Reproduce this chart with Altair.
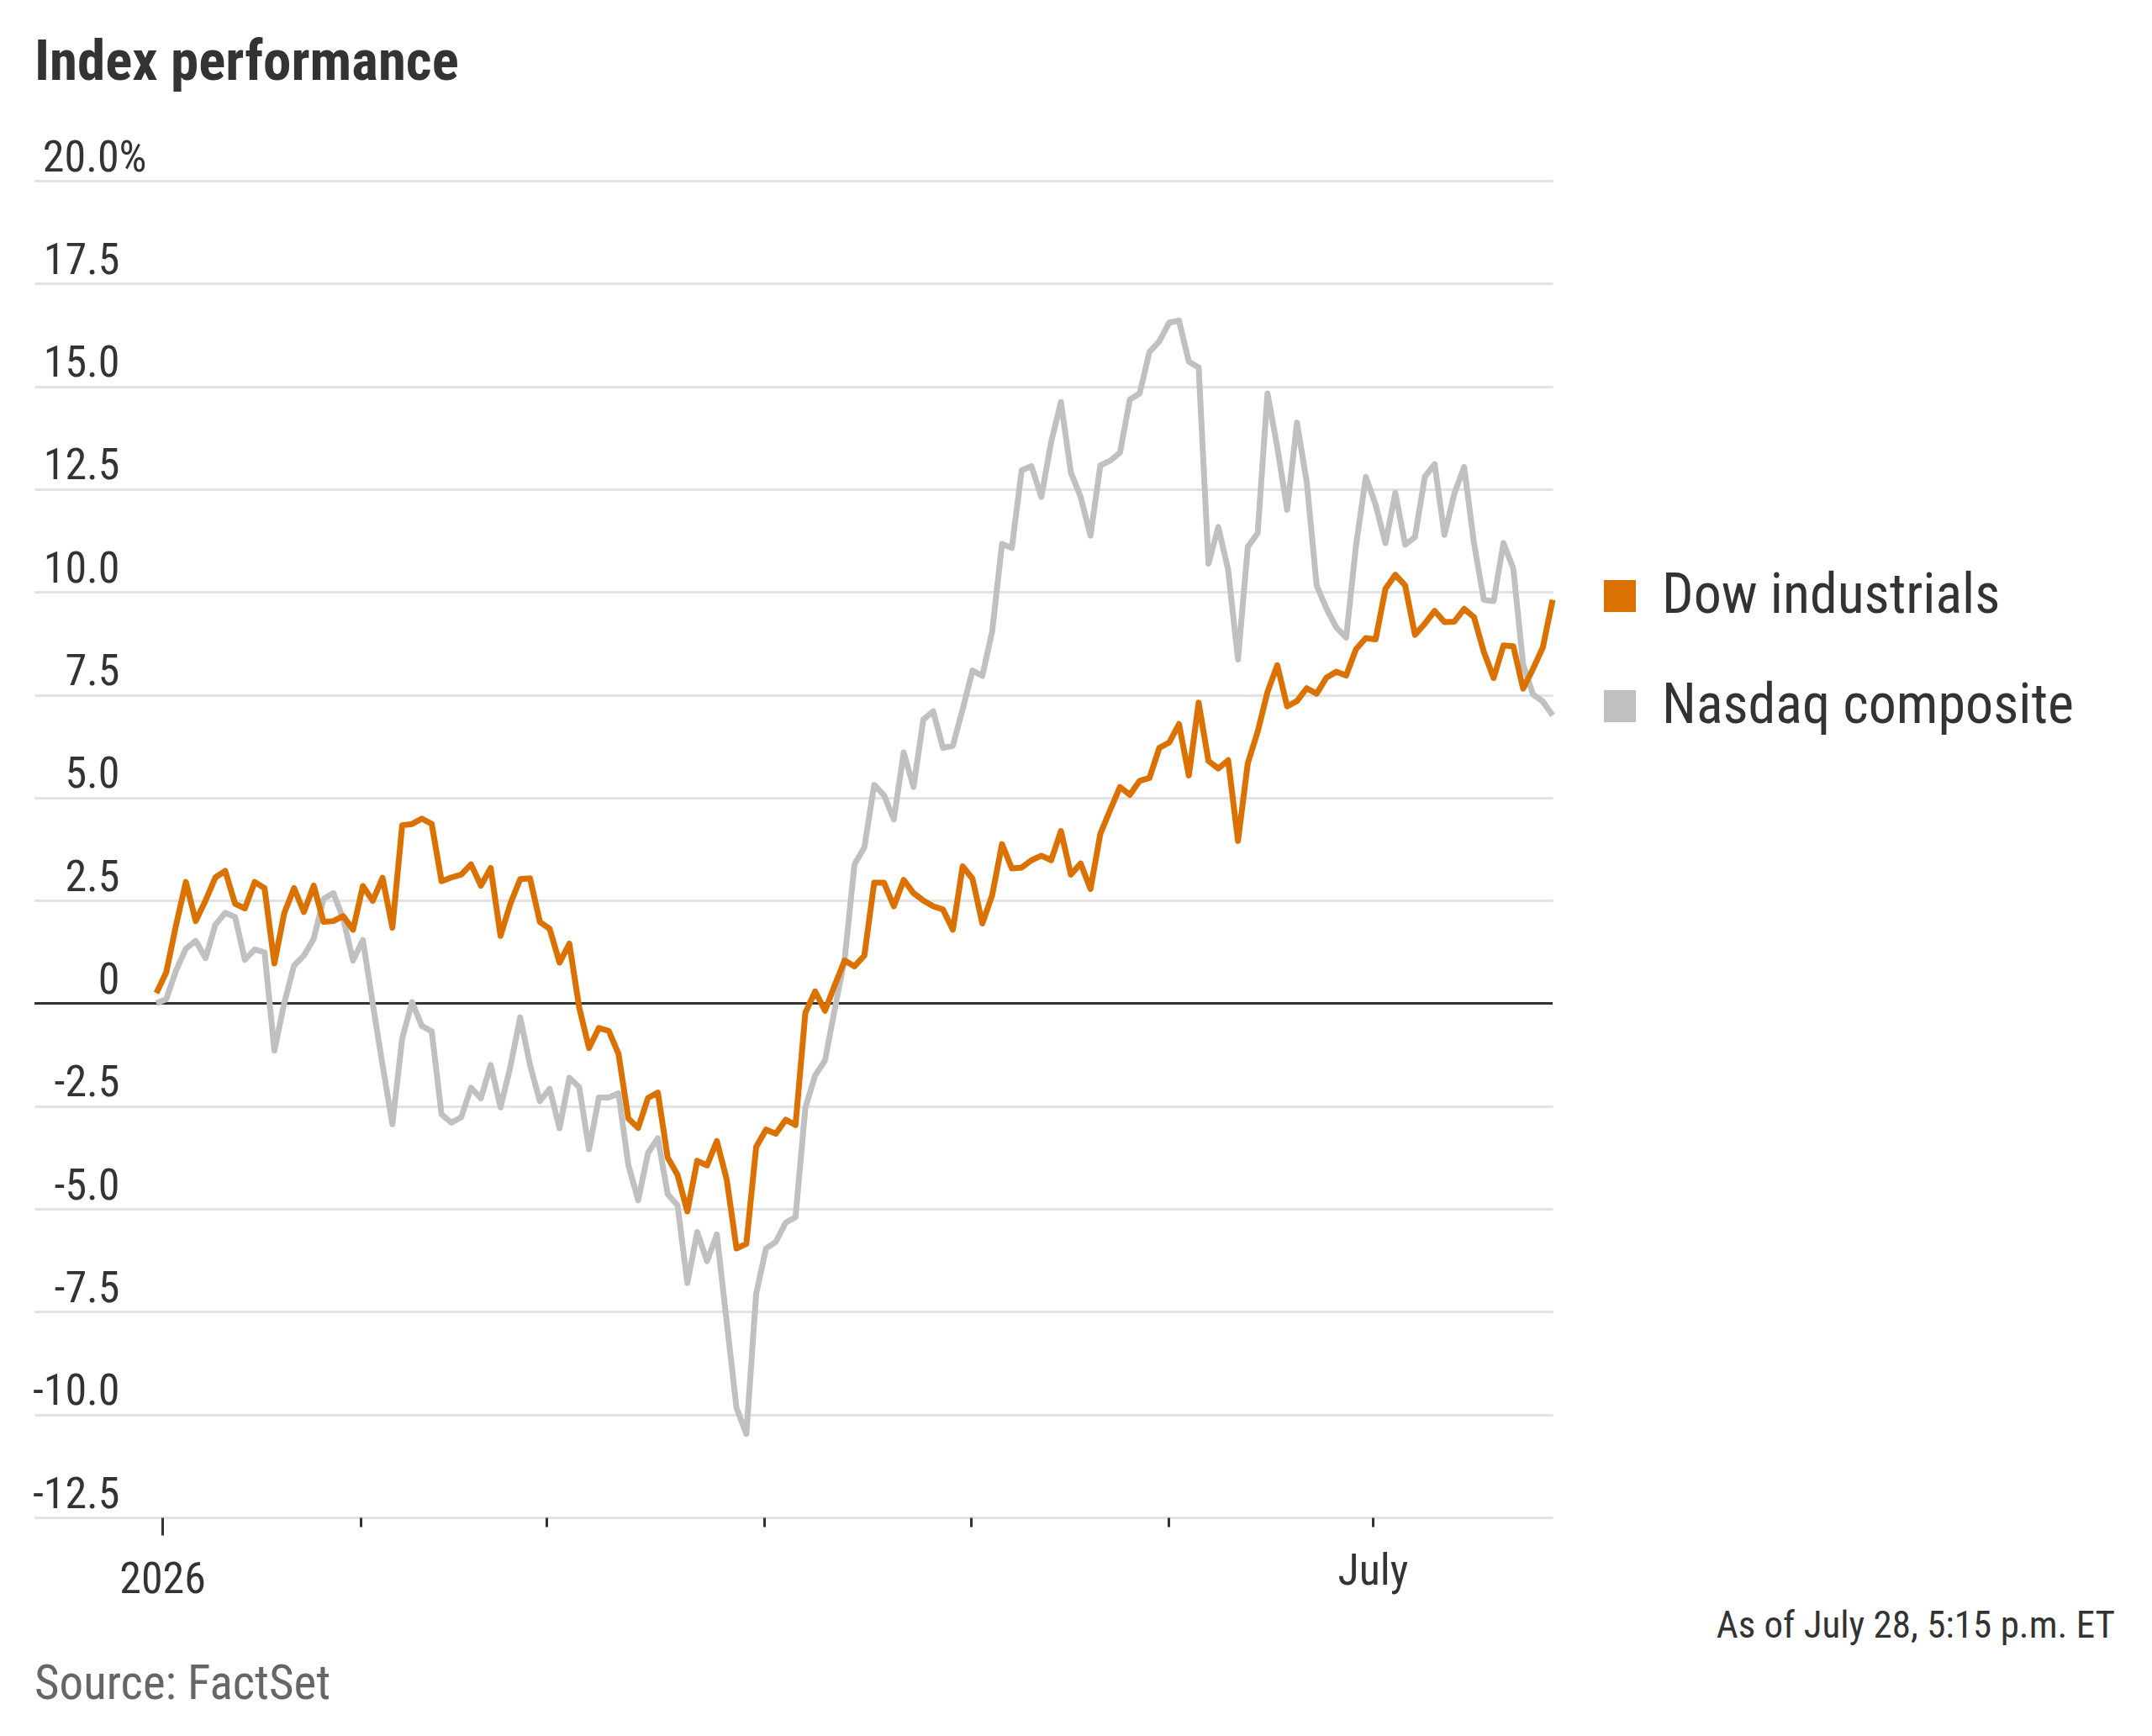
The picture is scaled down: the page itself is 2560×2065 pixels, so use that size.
import altair as alt
import pandas as pd

# ---- data (percent change since start of 2026, one value per trading day) ----
dow = [
    0.25, 0.75, 1.9, 2.95, 2.0, 2.5, 3.06, 3.22, 2.42, 2.31,
    2.95, 2.8, 0.97, 2.19, 2.8, 2.22, 2.86, 1.98, 2.0, 2.12,
    1.79, 2.85, 2.49, 3.05, 1.84, 4.33, 4.36, 4.49, 4.36, 2.97,
    3.06, 3.13, 3.38, 2.86, 3.29, 1.64, 2.42, 3.02, 3.04, 1.98,
    1.81, 0.99, 1.45, -0.1, -1.09, -0.6, -0.67, -1.23, -2.8, -3.03,
    -2.3, -2.17, -3.75, -4.17, -5.06, -3.83, -3.94, -3.35, -4.28, -5.96,
    -5.85, -3.49, -3.07, -3.17, -2.83, -2.96, -0.23, 0.29, -0.18, 0.45,
    1.04, 0.9, 1.16, 2.93, 2.93, 2.36, 3.0, 2.68, 2.5, 2.36,
    2.28, 1.79, 3.33, 3.03, 1.94, 2.63, 3.87, 3.28, 3.3, 3.48,
    3.59, 3.48, 4.19, 3.13, 3.4, 2.78, 4.12, 4.7, 5.26, 5.07,
    5.41, 5.48, 6.21, 6.34, 6.79, 5.54, 7.31, 5.89, 5.71, 5.91,
    3.95, 5.84, 6.6, 7.57, 8.22, 7.22, 7.35, 7.66, 7.53, 7.92,
    8.06, 7.97, 8.61, 8.88, 8.85, 10.08, 10.42, 10.16, 8.96, 9.23,
    9.54, 9.27, 9.28, 9.59, 9.39, 8.55, 7.91, 8.7, 8.68, 7.65,
    8.13, 8.65, 9.81,
]

nasdaq = [
    0.0, 0.1, 0.8, 1.33, 1.52, 1.1, 1.91, 2.2, 2.1, 1.06,
    1.31, 1.24, -1.15, 0.0, 0.92, 1.16, 1.57, 2.54, 2.68, 2.06,
    1.04, 1.54, 0.0, -1.5, -2.94, -0.85, 0.03, -0.55, -0.68, -2.7,
    -2.9, -2.77, -2.05, -2.31, -1.5, -2.53, -1.54, -0.34, -1.5, -2.38,
    -2.08, -3.04, -1.81, -2.04, -3.55, -2.29, -2.29, -2.19, -3.93, -4.79,
    -3.64, -3.28, -4.64, -4.91, -6.8, -5.56, -6.27, -5.62, -7.74, -9.84,
    -10.47, -7.06, -5.96, -5.8, -5.33, -5.2, -2.54, -1.75, -1.39, -0.13,
    1.08, 3.38, 3.79, 5.31, 5.06, 4.47, 6.1, 5.26, 6.9, 7.1,
    6.21, 6.26, 7.15, 8.09, 7.96, 9.04, 11.17, 11.07, 12.96, 13.06,
    12.31, 13.65, 14.62, 12.91, 12.31, 11.37, 13.08, 13.19, 13.39, 14.68,
    14.83, 15.84, 16.1, 16.55, 16.6, 15.6, 15.46, 10.69, 11.58, 10.54,
    8.36, 11.1, 11.43, 14.83, 13.52, 12.0, 14.12, 12.66, 10.16, 9.6,
    9.14, 8.89, 11.12, 12.8, 12.12, 11.19, 12.41, 11.15, 11.34, 12.8,
    13.11, 11.39, 12.39, 13.04, 11.19, 9.81, 9.78, 11.19, 10.57, 8.24,
    7.51, 7.34, 7.0,
]

series_names = ["Dow industrials", "Nasdaq composite"]
series_colors = ["#DB7100", "#C0C0C0"]

y_ticks = [-12.5, -10, -7.5, -5, -2.5, 0, 2.5, 5, 7.5, 10, 12.5, 15, 17.5, 20]
x_tick_pos = [0.6, 20.8, 39.7, 61.8, 82.8, 102.9, 123.7]
x_tick_labels = ["2026", "", "", "", "", "", "July"]

title_text = "Index performance"
note_text = "As of July 28, 5:15 p.m. ET"
source_text = "Source: FactSet"

# ---- tables ----
n = len(dow)
df = pd.DataFrame({
    "day": list(range(n)) * 2,
    "value": dow + nasdaq,
    "series": [series_names[0]] * n + [series_names[1]] * len(nasdaq),
})
legend_df = pd.DataFrame({"series": series_names})

FONT = "Liberation Sans Narrow, Roboto Condensed, Arial Narrow, Roboto, sans-serif"
TXT = "#333333"
W, H = 1806, 1590

x_scale = alt.Scale(domain=[-12.4, 142], nice=False, zero=False)
y_scale = alt.Scale(domain=[-12.5, 20], nice=False, zero=False)
color_scale = alt.Scale(domain=series_names, range=series_colors)

x_label_expr = " : ".join(
    f"datum.value == {p} ? '{l}'" for p, l in zip(x_tick_pos, x_tick_labels)
) + " : ''"

y_label_expr = (
    "datum.value == 20 ? '20.0%' : datum.value == 0 ? '0' : "
    "(datum.value < 0 ? '-' : '') + format(abs(datum.value), '.1f')"
)

x_enc = alt.X(
    "day:Q",
    scale=x_scale,
    axis=alt.Axis(
        values=x_tick_pos,
        labelExpr=x_label_expr,
        title=None,
        grid=False,
        domain=False,
        ticks=True,
        tickColor=TXT,
        tickWidth=3,
        tickSize={"condition": {"test": "datum.value == 0.6", "value": 21}, "value": 11},
        labelFont=FONT,
        labelFontSize=52,
        labelColor=TXT,
        labelPadding=27,
        labelFlush=False,
        labelOverlap=False,
    ),
)

y_enc = alt.Y(
    "value:Q",
    scale=y_scale,
    axis=alt.Axis(
        values=y_ticks,
        labelExpr=y_label_expr,
        title=None,
        grid=True,
        gridColor="#E2E2E2",
        gridWidth=3,
        domain=False,
        ticks=False,
        labelFont=FONT,
        labelFontSize=52,
        labelColor=TXT,
        labelAlign="right",
        labelBaseline="alphabetic",
        labelOffset=-12,
        labelPadding={"condition": {"test": "datum.value == 20", "value": -133}, "value": -101},
        labelOverlap=False,
        labelFlush=False,
    ),
)

base = alt.Chart(df)

zero_rule = alt.Chart(pd.DataFrame({"z": [0]})).mark_rule(
    color=TXT, strokeWidth=3
).encode(y=alt.Y("z:Q", scale=y_scale))

nasdaq_line = base.transform_filter(
    alt.datum.series == series_names[1]
).mark_line(color=series_colors[1], strokeWidth=7, strokeJoin="round").encode(
    x=x_enc, y=y_enc
)

dow_line = base.transform_filter(
    alt.datum.series == series_names[0]
).mark_line(color=series_colors[0], strokeWidth=7, strokeJoin="round").encode(
    x=alt.X("day:Q", scale=x_scale), y=alt.Y("value:Q", scale=y_scale)
)

legend_layer = alt.Chart(legend_df).mark_square(opacity=0).encode(
    color=alt.Color(
        "series:N",
        scale=color_scale,
        title=None,
        legend=alt.Legend(
            orient="none",
            legendX=1853,
            legendY=461,
            symbolType="square",
            symbolSize=1444,
            symbolOpacity=1,
            symbolStrokeWidth=0,
            labelFont=FONT,
            labelFontSize=66,
            labelColor=TXT,
            labelOffset=17,
            labelLimit=1000,
            rowPadding=65,
            padding=0,
        ),
    )
)

title_layer = alt.Chart(pd.DataFrame({"t": [title_text]})).mark_text(
    align="left", baseline="alphabetic", font=FONT, fontSize=67,
    fontWeight="bold", color=TXT,
).encode(text="t:N", x=alt.value(0), y=alt.value(-120))

note_layer = alt.Chart(pd.DataFrame({"t": [note_text]})).mark_text(
    align="right", baseline="alphabetic", font=FONT, fontSize=45, color=TXT,
).encode(text="t:N", x=alt.value(2475), y=alt.value(1733))

source_layer = alt.Chart(pd.DataFrame({"t": [source_text]})).mark_text(
    align="left", baseline="alphabetic", font=FONT, fontSize=57, color="#666666",
).encode(text="t:N", x=alt.value(0), y=alt.value(1806))

chart = alt.layer(
    zero_rule, nasdaq_line, dow_line, legend_layer,
    title_layer, note_layer, source_layer,
).properties(
    width=W,
    height=H,
    padding={"left": 41, "top": 215, "right": 713, "bottom": 260},
    autosize=alt.AutoSizeParams(type="none"),
    background="white",
).configure_view(strokeWidth=0)

chart.save("out.html", embed_options={"renderer": "svg", "actions": False})
